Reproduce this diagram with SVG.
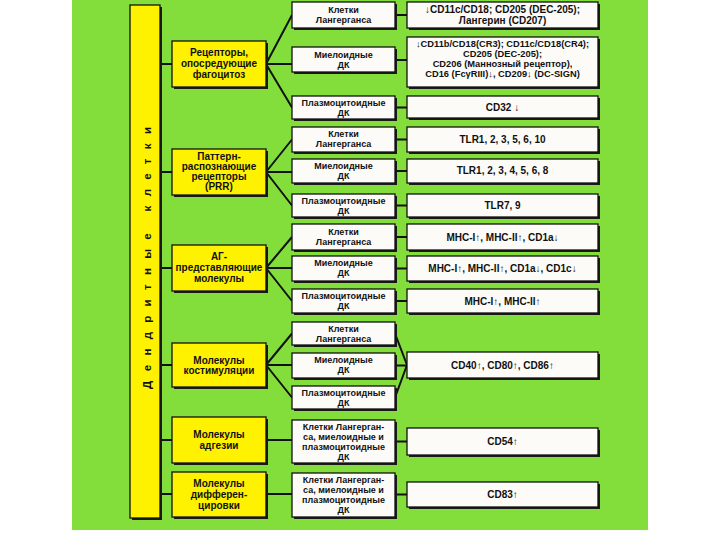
<svg xmlns="http://www.w3.org/2000/svg" width="720" height="540" viewBox="0 0 720 540">
<style>
.bg{fill:#83de3b}
.sh{fill:#1a1a1a}
.y{fill:#fff200;stroke:#111;stroke-width:1.3}
.w{fill:#fdfbf8;stroke:#111;stroke-width:1.3}
.c{stroke:#111;stroke-width:2;fill:none}
text{font-family:"Liberation Sans",Arial,sans-serif;font-weight:bold;fill:#111;text-anchor:middle}
.t1{font-size:10px}
.t2{font-size:9px}
.t3{font-size:10px}
</style>
<rect x="0" y="0" width="720" height="540" fill="#ffffff"/>
<rect class="bg" x="72" y="0" width="576" height="530"/>

<g id="connectors">
<path class="c" d="M160 64H172M160 172H172M160 268H172M160 365H172M160 440H172M160 494H172"/>
<path class="c" d="M266 64L292 15M266 64H292M266 64L292 107.5"/>
<path class="c" d="M266 172L292 139.5M266 172H292M266 172L292 205.5"/>
<path class="c" d="M266 268L292 237M266 268H292M266 268L292 301"/>
<path class="c" d="M266 365L292 333.5M266 365H292M266 365L292 397.5"/>
<path class="c" d="M266 440H292M266 494H292"/>
<path class="c" d="M395 15H407M395 60H407M395 107.5H407M395 139.5H407M395 171H407M395 205.5H407M395 237H407M395 268.5H407M395 301H407"/>
<path class="c" d="M395 333.5L407 365M395 365.5H407M395 397.5L407 365"/>
<path class="c" d="M395 441.5H407M395 494.5H407"/>
</g>

<g id="root">
<rect class="sh" x="132" y="7" width="30" height="513"/>
<rect class="y" x="130" y="5" width="30" height="513"/>
<text transform="translate(151,258) rotate(-90)" font-size="11.5" textLength="262" lengthAdjust="spacing">Дендритные клетки</text>
</g>

<g id="cat1">
<rect class="sh" x="174" y="43" width="94" height="46"/>
<rect class="y" x="172" y="41" width="94" height="46"/>
<text class="t1" x="219" y="56">Рецепторы,</text>
<text class="t1" x="219" y="67">опосредующие</text>
<text class="t1" x="219" y="78">фагоцитоз</text>
</g>
<g id="cat2">
<rect class="sh" x="174" y="151" width="94" height="46"/>
<rect class="y" x="172" y="149" width="94" height="46"/>
<text class="t1" x="219" y="160">Паттерн-</text>
<text class="t1" x="219" y="170">распознающие</text>
<text class="t1" x="219" y="180">рецепторы</text>
<text class="t1" x="219" y="190">(PRR)</text>
</g>
<g id="cat3">
<rect class="sh" x="174" y="247" width="94" height="46"/>
<rect class="y" x="172" y="245" width="94" height="46"/>
<text class="t1" x="219" y="260">АГ-</text>
<text class="t1" x="219" y="271">представляющие</text>
<text class="t1" x="219" y="282">молекулы</text>
</g>
<g id="cat4">
<rect class="sh" x="174" y="345" width="94" height="44"/>
<rect class="y" x="172" y="343" width="94" height="44"/>
<text class="t1" x="219" y="364">Молекулы</text>
<text class="t1" x="219" y="374">костимуляции</text>
</g>
<g id="cat5">
<rect class="sh" x="174" y="419" width="94" height="46"/>
<rect class="y" x="172" y="417" width="94" height="46"/>
<text class="t1" x="219" y="438">Молекулы</text>
<text class="t1" x="219" y="449">адгезии</text>
</g>
<g id="cat6">
<rect class="sh" x="174" y="474" width="94" height="45"/>
<rect class="y" x="172" y="472" width="94" height="45"/>
<text class="t1" x="219" y="487">Молекулы</text>
<text class="t1" x="219" y="498">дифферен-</text>
<text class="t1" x="219" y="509">цировки</text>
</g>

<g id="c1a"><rect class="sh" x="294" y="4" width="103" height="26"/><rect class="w" x="292" y="2" width="103" height="26"/>
<text class="t2" x="343.5" y="13">Клетки</text><text class="t2" x="343.5" y="23">Лангерганса</text></g>
<g id="c1b"><rect class="sh" x="294" y="49" width="103" height="25"/><rect class="w" x="292" y="47" width="103" height="25"/>
<text class="t2" x="343.5" y="58">Миелоидные</text><text class="t2" x="343.5" y="68">ДК</text></g>
<g id="c1c"><rect class="sh" x="294" y="98" width="103" height="23"/><rect class="w" x="292" y="96" width="103" height="23"/>
<text class="t2" x="343.5" y="106">Плазмоцитоидные</text><text class="t2" x="343.5" y="116">ДК</text></g>

<g id="c2a"><rect class="sh" x="294" y="129" width="103" height="25"/><rect class="w" x="292" y="127" width="103" height="25"/>
<text class="t2" x="343.5" y="137">Клетки</text><text class="t2" x="343.5" y="147">Лангерганса</text></g>
<g id="c2b"><rect class="sh" x="294" y="161" width="103" height="24"/><rect class="w" x="292" y="159" width="103" height="24"/>
<text class="t2" x="343.5" y="169">Миелоидные</text><text class="t2" x="343.5" y="179">ДК</text></g>
<g id="c2c"><rect class="sh" x="294" y="196" width="103" height="23"/><rect class="w" x="292" y="194" width="103" height="23"/>
<text class="t2" x="343.5" y="204">Плазмоцитоидные</text><text class="t2" x="343.5" y="214">ДК</text></g>

<g id="c3a"><rect class="sh" x="294" y="226" width="103" height="26"/><rect class="w" x="292" y="224" width="103" height="26"/>
<text class="t2" x="343.5" y="235">Клетки</text><text class="t2" x="343.5" y="245">Лангерганса</text></g>
<g id="c3b"><rect class="sh" x="294" y="258" width="103" height="25"/><rect class="w" x="292" y="256" width="103" height="25"/>
<text class="t2" x="343.5" y="266">Миелоидные</text><text class="t2" x="343.5" y="276">ДК</text></g>
<g id="c3c"><rect class="sh" x="294" y="291" width="103" height="24"/><rect class="w" x="292" y="289" width="103" height="24"/>
<text class="t2" x="343.5" y="299">Плазмоцитоидные</text><text class="t2" x="343.5" y="309">ДК</text></g>

<g id="c4a"><rect class="sh" x="294" y="324" width="103" height="23"/><rect class="w" x="292" y="322" width="103" height="23"/>
<text class="t2" x="343.5" y="332">Клетки</text><text class="t2" x="343.5" y="342">Лангерганса</text></g>
<g id="c4b"><rect class="sh" x="294" y="355" width="103" height="25"/><rect class="w" x="292" y="353" width="103" height="25"/>
<text class="t2" x="343.5" y="363">Миелоидные</text><text class="t2" x="343.5" y="373">ДК</text></g>
<g id="c4c"><rect class="sh" x="294" y="388" width="103" height="23"/><rect class="w" x="292" y="386" width="103" height="23"/>
<text class="t2" x="343.5" y="396">Плазмоцитоидные</text><text class="t2" x="343.5" y="406">ДК</text></g>

<g id="c5"><rect class="sh" x="294" y="422" width="103" height="43"/><rect class="w" x="292" y="420" width="103" height="43"/>
<text class="t2" x="343.5" y="430">Клетки Лангерган-</text><text class="t2" x="343.5" y="440">са, миелоидные и</text>
<text class="t2" x="343.5" y="450">плазмоцитоидные</text><text class="t2" x="343.5" y="460">ДК</text></g>
<g id="c6"><rect class="sh" x="294" y="475" width="103" height="44"/><rect class="w" x="292" y="473" width="103" height="44"/>
<text class="t2" x="343.5" y="483">Клетки Лангерган-</text><text class="t2" x="343.5" y="493">са, миелоидные и</text>
<text class="t2" x="343.5" y="503">плазмоцитоидные</text><text class="t2" x="343.5" y="513">ДК</text></g>

<g id="r1"><rect class="sh" x="409" y="4" width="191" height="26"/><rect class="w" x="407" y="2" width="191" height="26"/>
<text class="t3" x="502.5" y="13">↓CD11c/CD18; CD205 (DEC-205);</text><text class="t3" x="502.5" y="24">Лангерин (CD207)</text></g>
<g id="r2"><rect class="sh" x="409" y="39" width="191" height="50"/><rect class="w" x="407" y="37" width="191" height="50"/>
<text x="502.5" y="47" font-size="9.3">↓CD11b/CD18(CR3); CD11c/CD18(CR4);</text>
<text x="502.5" y="57" font-size="9.3">CD205 (DEC-205);</text>
<text x="502.5" y="67" font-size="9.3">CD206 (Маннозный рецептор),</text>
<text x="502.5" y="77" font-size="9.3">CD16 (FcγRIII)↓, CD209↓ (DC-SIGN)</text></g>
<g id="r3"><rect class="sh" x="409" y="98" width="191" height="22"/><rect class="w" x="407" y="96" width="191" height="22"/>
<text class="t3" x="502.5" y="111">CD32 ↓</text></g>

<g id="r4"><rect class="sh" x="409" y="129" width="191" height="25"/><rect class="w" x="407" y="127" width="191" height="25"/>
<text class="t3" x="502.5" y="143">TLR1, 2, 3, 5, 6, 10</text></g>
<g id="r5"><rect class="sh" x="409" y="161" width="191" height="24"/><rect class="w" x="407" y="159" width="191" height="24"/>
<text class="t3" x="502.5" y="174">TLR1, 2, 3, 4, 5, 6, 8</text></g>
<g id="r6"><rect class="sh" x="409" y="196" width="191" height="23"/><rect class="w" x="407" y="194" width="191" height="23"/>
<text class="t3" x="502.5" y="209">TLR7, 9</text></g>

<g id="r7"><rect class="sh" x="409" y="226" width="191" height="26"/><rect class="w" x="407" y="224" width="191" height="26"/>
<text class="t3" x="502.5" y="241">MHC-I↑, MHC-II↑, CD1a↓</text></g>
<g id="r8"><rect class="sh" x="409" y="258" width="191" height="25"/><rect class="w" x="407" y="256" width="191" height="25"/>
<text class="t3" x="502.5" y="272">MHC-I↑, MHC-II↑, CD1a↓, CD1c↓</text></g>
<g id="r9"><rect class="sh" x="409" y="291" width="191" height="24"/><rect class="w" x="407" y="289" width="191" height="24"/>
<text class="t3" x="502.5" y="305">MHC-I↑, MHC-II↑</text></g>

<g id="r10"><rect class="sh" x="409" y="354" width="191" height="26"/><rect class="w" x="407" y="352" width="191" height="26"/>
<text class="t3" x="502.5" y="369">CD40↑, CD80↑, CD86↑</text></g>
<g id="r11"><rect class="sh" x="409" y="430" width="191" height="27"/><rect class="w" x="407" y="428" width="191" height="27"/>
<text class="t3" x="502.5" y="445">CD54↑</text></g>
<g id="r12"><rect class="sh" x="409" y="484" width="191" height="25"/><rect class="w" x="407" y="482" width="191" height="25"/>
<text class="t3" x="502.5" y="498">CD83↑</text></g>
</svg>
